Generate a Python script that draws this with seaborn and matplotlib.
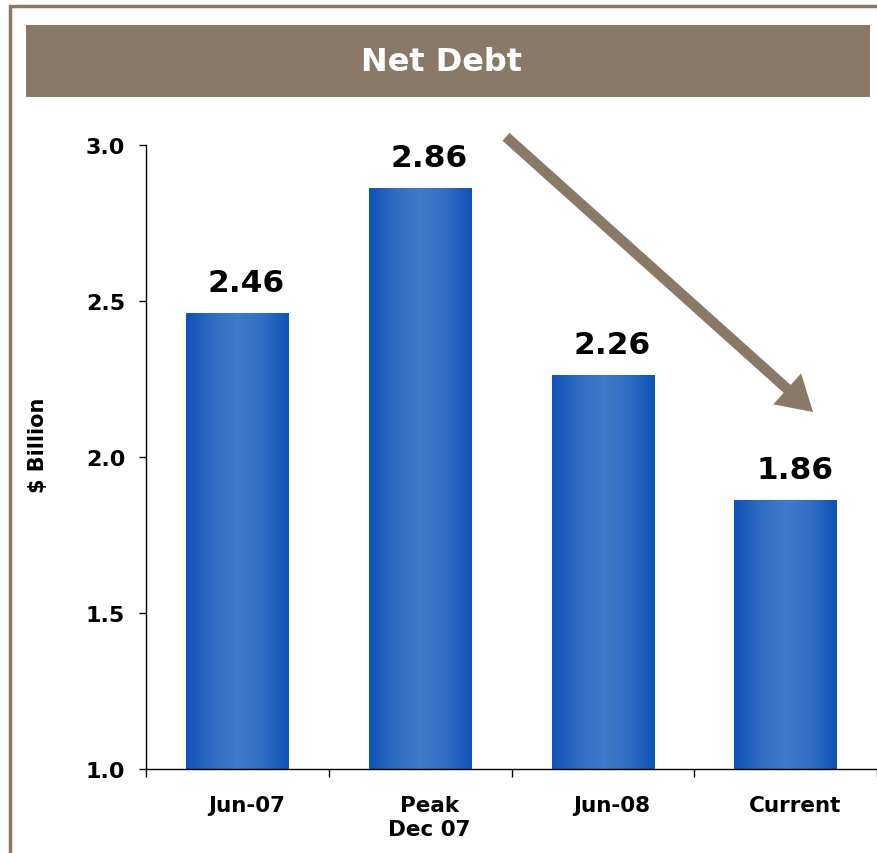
import matplotlib
matplotlib.use("Agg")
import matplotlib.pyplot as plt
import matplotlib.transforms as mtransforms
import seaborn as sns
import numpy as np
import pandas as pd
from matplotlib.colors import LinearSegmentedColormap
from matplotlib.patches import Rectangle
from matplotlib.lines import Line2D

categories = ["Jun-07", "Peak\nDec 07", "Jun-08", "Current"]
net_debt = [2.46, 2.86, 2.26, 1.86]
value_labels = ["2.46", "2.86", "2.26", "1.86"]
yticks = [1.0, 1.5, 2.0, 2.5, 3.0]

brown = "#8B7968"
df = pd.DataFrame({"period": categories, "debt": net_debt})

sns.set_style("white")
plt.rcParams['font.family'] = ['DejaVu Sans']
plt.rcParams['text.color'] = 'black'
plt.rcParams['xtick.color'] = 'black'
plt.rcParams['ytick.color'] = 'black'

fig = plt.figure(figsize=(8.77, 8.54), dpi=100)
ax = fig.add_axes([0.1665, 0.0984, 0.8335, 0.7307])

sns.barplot(data=df, x="period", y="debt", width=0.56, color="#1E63BE", ax=ax)

ymin, ymax = 1.0, 3.0

# horizontal gradient on each bar
grad_cmap = LinearSegmentedColormap.from_list(
    "bar", ["#0D52B5", "#2E6CC2", "#3E7CC9", "#2F6EC3", "#0D52B5"])
grad = np.linspace(0, 1, 256).reshape(1, -1)
for p in ax.patches:
    x0, w = p.get_x(), p.get_width()
    top = p.get_y() + p.get_height()
    im = ax.imshow(grad, cmap=grad_cmap, aspect="auto",
                   extent=[x0, x0 + w, ymin, top], zorder=p.get_zorder() + 0.1)
    im.set_clip_path(p)
    im.set_clip_box(ax.bbox)

ax.set_xlim(-0.5, 3.5)
ax.set_ylim(ymin, ymax)
ax.set_yticks(yticks)
ax.set_yticklabels([f"{t:.1f}" for t in yticks])
ax.set_xticks(range(len(categories)))
ax.set_xticklabels(categories)

# labels sit slightly right of the bar centres in the original
shift = mtransforms.ScaledTranslation(9 / 100, 0, fig.dpi_scale_trans)

for i, (v, lab) in enumerate(zip(net_debt, value_labels)):
    ax.annotate(lab, (i, v), xytext=(6.5, 12), textcoords="offset points",
                ha="center", va="bottom", fontsize=22.5, fontweight="bold",
                color="black")

ax.set_xlabel("")
ax.set_ylabel("$ Billion", fontsize=15, fontweight="bold", color="black")
ax.yaxis.set_label_coords(-0.134, 0.52)

ax.set_xticks([-0.5, 0.5, 1.5, 2.5, 3.5], minor=True)
ax.tick_params(axis="x", which="major", bottom=False, length=0, pad=19, labelsize=15.5)
ax.tick_params(axis="x", which="minor", bottom=True, length=6, width=1,
               color="black", direction="out")
ax.tick_params(axis="y", left=True, length=5, width=1, color="black",
               direction="out", pad=10, labelsize=16)
for t in ax.get_xticklabels():
    t.set_transform(t.get_transform() + shift)
for t in ax.get_xticklabels() + ax.get_yticklabels():
    t.set_fontweight("bold")
    t.set_color("black")

sns.despine(ax=ax, top=True, right=True)
for s in ["left", "bottom"]:
    ax.spines[s].set_color("black")
    ax.spines[s].set_linewidth(1)

# arrow showing decline
ax.annotate("", xy=(3.15, 2.144), xytext=(1.47, 3.026), xycoords="data",
            annotation_clip=False,
            arrowprops=dict(arrowstyle="simple,head_length=1.25,head_width=1.5,tail_width=0.38",
                            mutation_scale=20, color=brown, lw=0,
                            shrinkA=0, shrinkB=0))

# title banner
fig.patches.append(Rectangle((0.0296, 0.8852), 0.9624, 0.0844,
                             transform=fig.transFigure, facecolor=brown,
                             edgecolor="none", zorder=0))
fig.text(0.503, 0.9265, "Net Debt", color="white", fontsize=23,
         fontweight="bold", ha="center", va="center")

# frame lines
fig.lines.append(Line2D([0.0114, 1.0], [0.9918, 0.9918], transform=fig.transFigure,
                        color=brown, lw=2.5))
fig.lines.append(Line2D([0.0114, 0.0114], [0.0, 0.9918], transform=fig.transFigure,
                        color=brown, lw=2.5))

fig.savefig("out.png", dpi=100)
